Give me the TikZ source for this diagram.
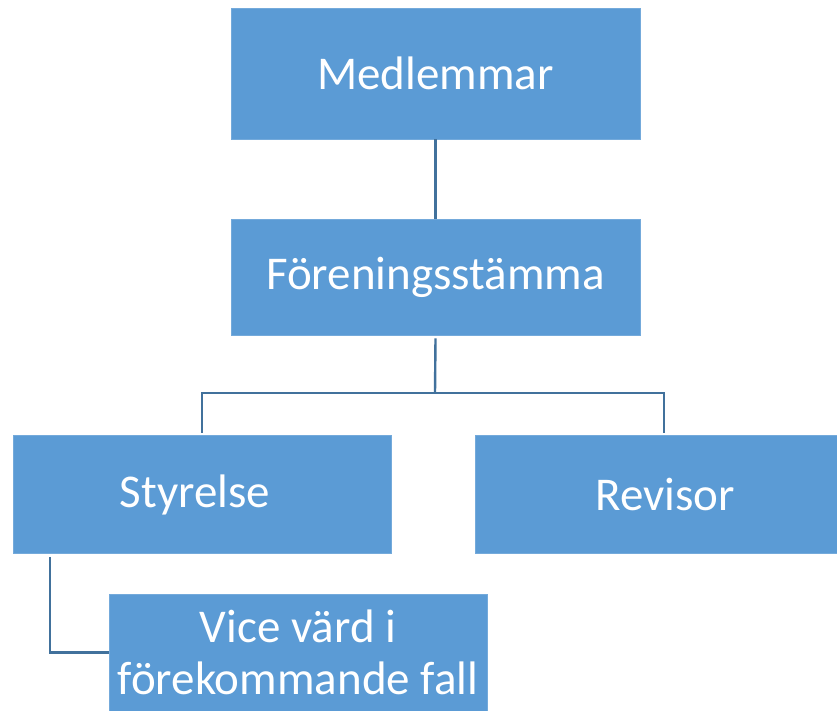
\documentclass[tikz,border=0pt]{standalone}
\usepackage{fontspec}
\setmainfont{Carlito}
\definecolor{boxfill}{HTML}{5B9BD5}
\definecolor{boxline}{HTML}{41719C}
\begin{document}
\begin{tikzpicture}[x=1pt,y=-1pt,
  orgbox/.style={fill=boxfill, draw=boxfill!85!white, line width=0.8pt, text=white, align=center, inner sep=0pt},
  conn/.style={draw=boxline, line width=2.4pt}]
\useasboundingbox (0,0) rectangle (837,711);
\node[orgbox, minimum width=409pt, minimum height=131pt, font=\fontsize{47}{52}\selectfont] (m) at (435.5,73.5) {Medlemmar};
\node[orgbox, minimum width=409pt, minimum height=116pt, font=\fontsize{47}{52}\selectfont] (f) at (435.5,277) {Föreningsstämma};
\node[orgbox, minimum width=378pt, minimum height=118pt] (s) at (202.5,494.5) {};
\node[text=white, font=\fontsize{47}{52}\selectfont] (st) at (195,494.5) {Styrelse};
\node[orgbox, minimum width=362pt, minimum height=118pt] (r) at (656,494.5) {};
\node[text=white, font=\fontsize{47}{52}\selectfont] (rt) at (665,494.5) {Revisor};
\node[orgbox, minimum width=378pt, minimum height=117pt, font=\fontsize{47}{52}\selectfont] (v) at (298,652.5) {Vice värd i\\förekommande fall};
\coordinate (j) at (435,393);
\draw[conn] (m.south) -- (f.north);
\draw[conn] ([yshift=-3pt]f.south) -- (j);
\draw[conn] (202,393) -- (664,393);
\draw[conn] (202,392) -- ([yshift=2pt]s.north -| 202,0);
\draw[conn] (664,392) -- ([yshift=2pt]r.north -| 664,0);
\draw[conn] ([yshift=-3pt]s.south -| 50,0) |- (v.west);
\end{tikzpicture}
\end{document}
